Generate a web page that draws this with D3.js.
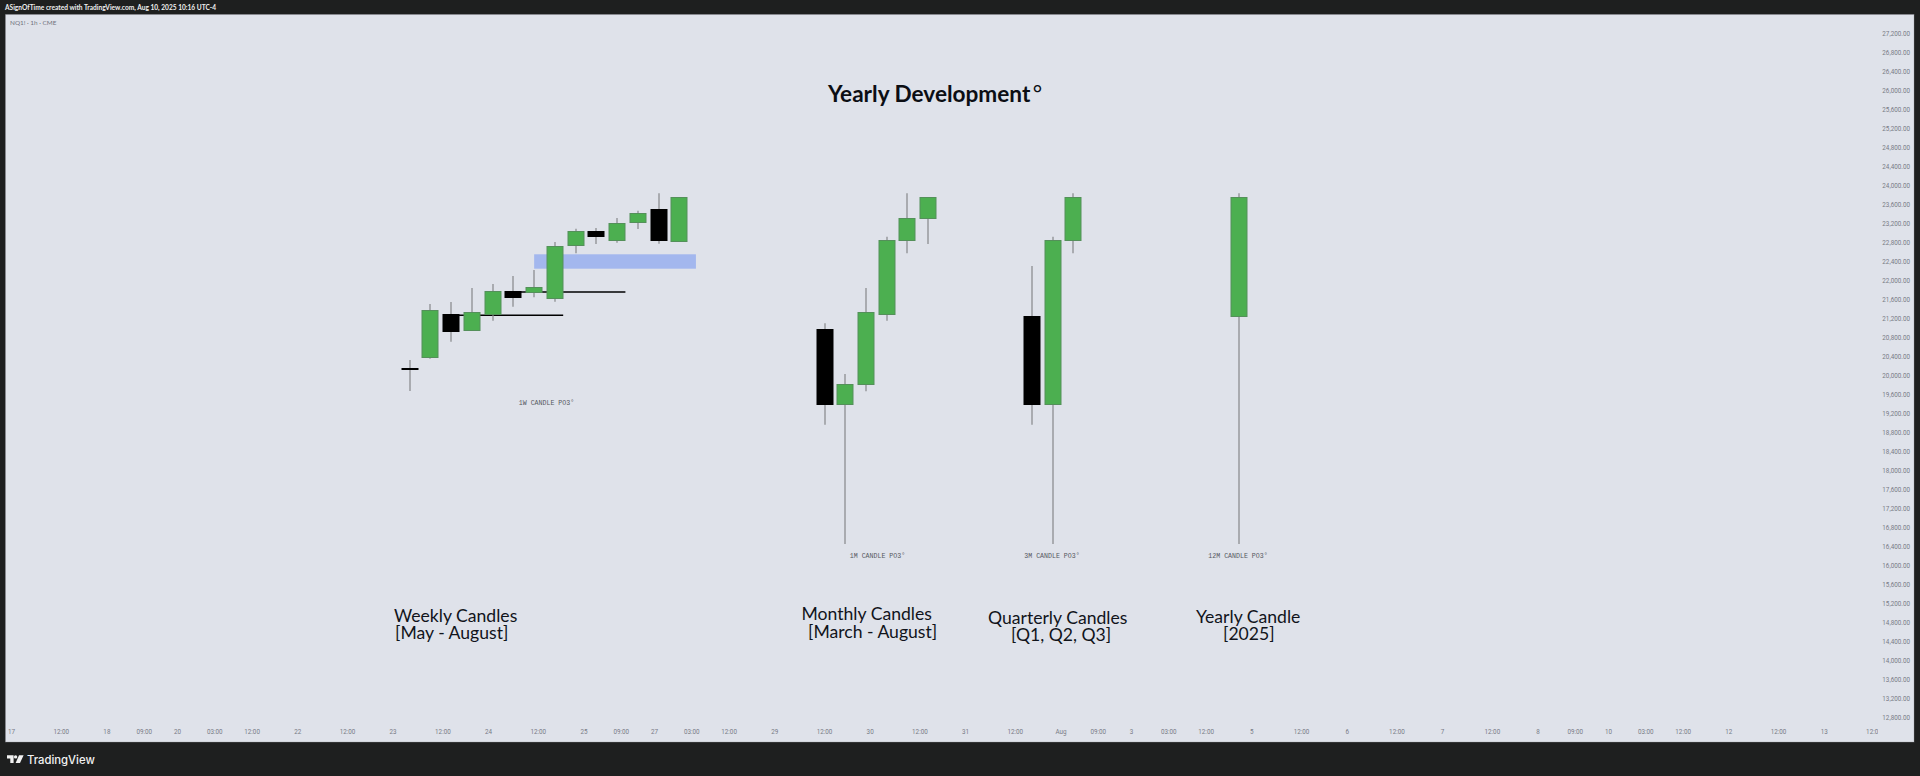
<!DOCTYPE html>
<html>
<head>
<meta charset="utf-8">
<script src="https://cdn.jsdelivr.net/npm/d3@7/dist/d3.min.js"></script>
<style>
html,body{margin:0;padding:0;background:#1e1f1f;overflow:hidden}
svg{display:block}
</style>
</head>
<body>
<script>
const priceTicks = d3.range(12800, 27201, 400);
const timeHours = [0,12,23,32,40,49,58,69,81,92,104,115,127,138,147,155,164,173,184,196,207,219,230,242,253,262,270,279,288,299,311,322,334,345,357,368,377,385,394,403,414,426,437,449];
const timeLabels = ["17","12:00","18","09:00","20","03:00","12:00","22","12:00","23","12:00","24","12:00","25","09:00","27","03:00","12:00","29","12:00","30","12:00","31","12:00","Aug","09:00","3","03:00","12:00","5","12:00","6","12:00","7","12:00","8","09:00","10","03:00","12:00","12","12:00","13","12:00"];

const weeklyHours = [96,101,106,111,116,121,126,131,136,141,146,151,156,161];
const weeklyOpen  = [20158,20375,21280,20956,21287,21777,21750,21630,22739,23033,22838,23216,23503,22829];
const weeklyHigh  = [20319,21497,21539,21834,21918,22086,22213,22802,23082,23096,23307,23460,23827,23743];
const weeklyLow   = [19666,20346,20704,20935,21146,21440,21638,21545,22564,22760,22787,23075,22766,22802];
const weeklyClose = [20150,21371,20935,21335,21777,21638,21848,22711,23027,22922,23208,23412,22850,23743];

const monthlyHours = [196,201,206,211,216,221];
const monthlyOpen  = [20977,19393,19820,21287,22844,23301];
const monthlyHigh  = [21091,20024,21834,22913,23827,23743];
const monthlyLow   = [18957,16446,19660,21146,22564,22760];
const monthlyClose = [19393,19820,21335,22844,23301,23743];

const quarterlyHours = [246,251,256];
const quarterlyOpen  = [21244,19393,22844];
const quarterlyHigh  = [22297,22913,23827];
const quarterlyLow   = [18957,16446,22564];
const quarterlyClose = [19393,22844,23743];

const yearlyHours = [296];
const yearlyOpen  = [21244];
const yearlyHigh  = [23827];
const yearlyLow   = [16446];
const yearlyClose = [23743];

const levelPrices = [21259,21750];
const levelStarts = [106,121];
const levelEnds   = [133,148];
const zoneTop = 22543, zoneBottom = 22240, zoneStart = 126, zoneEnd = 165;

const W = 1920, H = 776;
const BG = "#1e1f1f", PANE = "#dfe2ea", UP = "#4caf50", UPB = "#54905a", WICK = "#858789", AXIS = "#787b86";
const TREB = "Lato, 'Noto Sans', sans-serif";

const x = d3.scaleLinear().domain([0, 100]).range([11.5, 426.3]);
const y = d3.scaleLinear().domain([12800, 27200]).range([717.3, 33]);

const svg = d3.select("body").append("svg").attr("width", W).attr("height", H);
svg.append("rect").attr("width", W).attr("height", H).attr("fill", BG);
svg.append("rect").attr("x", 5.5).attr("y", 14.5).attr("width", 1908.5).attr("height", 727.5)
   .attr("fill", PANE).attr("stroke", "#9a9ca3").attr("stroke-opacity", .35).attr("stroke-width", 1);

const defs = svg.append("defs");
defs.append("clipPath").attr("id", "timeClip").append("rect")
    .attr("x", 6).attr("y", 722).attr("width", 1872).attr("height", 20);

// header
svg.append("text").attr("x", 5).attr("y", 10).attr("fill", "#f0f0f0")
   .attr("font-family", "Lato, sans-serif").attr("font-size", 6.6).attr("font-weight", 700)
   .text("ASignOfTime created with TradingView.com, Aug 10, 2025 10:16 UTC-4");
svg.append("text").attr("x", 10).attr("y", 25).attr("fill", "#6f727c")
   .attr("font-family", "Lato, sans-serif").attr("font-size", 6.4)
   .text("NQ1! · 1h · CME");

// axes
const yAxis = d3.axisRight(y).tickValues(priceTicks).tickSize(0).tickPadding(0).tickFormat(d3.format(",.2f"));
const gy = svg.append("g").attr("transform", "translate(1910,0)").call(yAxis);
gy.select(".domain").remove();
gy.selectAll("text").attr("text-anchor", "end").attr("fill", AXIS)
  .attr("font-family", "Roboto, sans-serif").attr("font-size", 6.3);

const xAxis = d3.axisBottom(x).tickValues(timeHours).tickSize(0).tickPadding(0)
  .tickFormat((d) => timeLabels[timeHours.indexOf(d)]);
const gx = svg.append("g").attr("clip-path", "url(#timeClip)")
  .append("g").attr("transform", "translate(-0.5,730)").call(xAxis);
gx.select(".domain").remove();
gx.selectAll("text").attr("fill", AXIS)
  .attr("font-family", "Roboto, sans-serif").attr("font-size", 6.3);

// zone + level lines
svg.append("rect").attr("x", x(zoneStart)).attr("y", y(zoneTop))
   .attr("width", x(zoneEnd) - x(zoneStart)).attr("height", y(zoneBottom) - y(zoneTop))
   .attr("fill", "#a3b7ee");
svg.selectAll("line.level").data(levelPrices).join("line").attr("class", "level")
   .attr("x1", (d, i) => x(levelStarts[i])).attr("x2", (d, i) => x(levelEnds[i]))
   .attr("y1", d => y(d)).attr("y2", d => y(d))
   .attr("stroke", "#000").attr("stroke-width", 1.6);

// candles
function candles(name, hours, open, high, low, close) {
  const g = svg.append("g").attr("class", name);
  const idx = d3.range(hours.length);
  g.selectAll("line").data(idx).join("line")
    .attr("x1", i => Math.round(x(hours[i]))).attr("x2", i => Math.round(x(hours[i])))
    .attr("y1", i => y(high[i])).attr("y2", i => y(low[i]))
    .attr("stroke", WICK).attr("stroke-width", 1.2);
  g.selectAll("rect").data(idx).join("rect")
    .attr("x", i => Math.round(x(hours[i])) - 8)
    .attr("width", 16)
    .attr("y", i => Math.round(y(Math.max(open[i], close[i]))) + .5)
    .attr("height", i => Math.max(1, Math.abs(Math.round(y(open[i])) - Math.round(y(close[i])))))
    .attr("fill", i => close[i] >= open[i] ? UP : "#000")
    .attr("stroke", i => close[i] >= open[i] ? UPB : "#000").attr("stroke-width", 1);
}
candles("weekly", weeklyHours, weeklyOpen, weeklyHigh, weeklyLow, weeklyClose);
candles("monthly", monthlyHours, monthlyOpen, monthlyHigh, monthlyLow, monthlyClose);
candles("quarterly", quarterlyHours, quarterlyOpen, quarterlyHigh, quarterlyLow, quarterlyClose);
candles("yearly", yearlyHours, yearlyOpen, yearlyHigh, yearlyLow, yearlyClose);

// title
const title = svg.append("text").attr("x", 828).attr("y", 101.5)
   .attr("fill", "#0c0e14").attr("font-family", TREB).attr("font-size", 22.6).attr("font-weight", 700)
   .text("Yearly Development");
title.append("tspan").attr("dx", 2.5).attr("font-weight", 400).text("°");

// section labels: each block is one text with two lines
const labelBlocks = [
  ["Weekly Candles", 394, 621.5, "[May - August]", 395, 639],
  ["Monthly Candles", 801.5, 620, "[March - August]", 808, 637.5],
  ["Quarterly Candles", 988, 623.5, "[Q1, Q2, Q3]", 1011, 641],
  ["Yearly Candle", 1196, 622.5, "[2025]", 1223, 640]
];
const sections = svg.selectAll("text.section").data(labelBlocks).join("text").attr("class", "section")
   .attr("fill", "#11141b").attr("font-family", TREB).attr("font-size", 17.6);
sections.append("tspan").attr("x", d => d[1]).attr("y", d => d[2]).text(d => d[0]);
sections.append("tspan").attr("x", d => d[4]).attr("y", d => d[5]).text(d => d[3]);

const po3 = [["1W CANDLE PO3°", 546.5, 405], ["1M CANDLE PO3°", 877.5, 557.5], ["3M CANDLE PO3°", 1052, 557.5], ["12M CANDLE PO3°", 1238, 557.5]];
svg.selectAll("text.po3").data(po3).join("text").attr("class", "po3")
   .attr("x", d => d[1]).attr("y", d => d[2]).attr("text-anchor", "middle").attr("fill", "#55585f")
   .attr("font-family", "'Liberation Mono', monospace").attr("font-size", 6.6)
   .text(d => d[0]);

// footer brand
const logo = svg.append("g").attr("fill", "#f2f2f2");
logo.append("path").attr("d", "M7 755.2h6.6v7.8h-3.3v-4.6H7z");
logo.append("circle").attr("cx", 15.6).attr("cy", 756.9).attr("r", 1.7);
logo.append("path").attr("d", "M19 755.2h4.6L20 763h-4.4z");
svg.append("text").attr("x", 27).attr("y", 763.5).attr("fill", "#f2f2f2")
   .attr("font-family", "Inter, Roboto, sans-serif").attr("font-size", 11.3).attr("font-weight", 500)
   .text("TradingView");
</script>
</body>
</html>
